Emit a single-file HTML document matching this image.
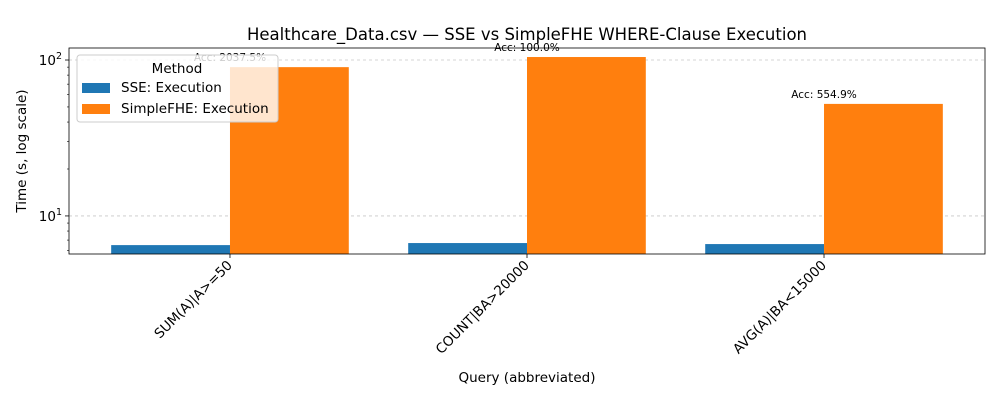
<!DOCTYPE html>
<html><head><meta charset="utf-8"><style>
body{margin:0;background:#fff;}
svg{display:block;font-family:"DejaVu Sans","Liberation Sans",sans-serif;}
</style></head><body>
<svg id="chart" width="1000" height="400" xmlns="http://www.w3.org/2000/svg"></svg>
<script>
const categories = ["SUM(A)|A>=50", "COUNT|BA>20000", "AVG(A)|BA<15000"];
const sseValues = [6.5, 6.7, 6.6];
const fheValues = [90, 104.5, 52.3];
const accLabels = ["Acc: 2037.5%", "Acc: 100.0%", "Acc: 554.9%"];
const yMajorTicks = [10, 100];
const yMajorLabels = ["10", "10"];
const yMajorExps = ["1", "2"];

const svg = document.getElementById('chart');
const NS = 'http://www.w3.org/2000/svg';
const L = 69, R = 985, T = 48, B = 254;
const yMin = 5.7, yMax = 119.4;
const xMin = -0.542, xMax = 2.542;
function xs(v){ return L + (v - xMin) / (xMax - xMin) * (R - L); }
function ys(v){ return B - (Math.log10(v) - Math.log10(yMin)) / (Math.log10(yMax) - Math.log10(yMin)) * (B - T); }
function mk(tag, attrs, parent){
  const e = document.createElementNS(NS, tag);
  for (const k in attrs) e.setAttribute(k, attrs[k]);
  (parent || svg).appendChild(e);
  return e;
}

// grid
yMajorTicks.forEach(v => {
  const g = mk('line', {x1:L, x2:R, y1:ys(v), y2:ys(v), stroke:'#b0b0b0', 'stroke-width':0.8, 'stroke-dasharray':'3,3', opacity:0.7});
  
  
});

const bw = 0.4;
categories.forEach((c, i) => {
  const b1 = mk('rect', {x:xs(i - bw), y:ys(sseValues[i]), width:xs(i) - xs(i - bw), height:B - ys(sseValues[i]), fill:'#1f77b4'});
  
  
  const b2 = mk('rect', {x:xs(i), y:ys(fheValues[i]), width:xs(i + bw) - xs(i), height:B - ys(fheValues[i]), fill:'#ff7f0e'});
  
  
  const a = mk('text', {x:xs(i), y:ys(fheValues[i]) - 6, 'text-anchor':'middle', 'font-size':'10.5', fill:'#000'});
  a.textContent = accLabels[i];
  
  
  // x tick
  mk('line', {x1:xs(i), x2:xs(i), y1:B, y2:B + 4, stroke:'#000', 'stroke-width':0.8});
  const tx = xs(i) + 3, ty = B + 12;
  const t = mk('text', {x:tx, y:ty, 'text-anchor':'end', 'font-size':'13.5', transform:`rotate(-45 ${tx} ${ty})`});
  t.textContent = c;
  
  
});

// y ticks
yMajorTicks.forEach((v, i) => {
  mk('line', {x1:L - 4, x2:L, y1:ys(v), y2:ys(v), stroke:'#000', 'stroke-width':0.8});
  const t = mk('text', {x:L - 7, y:ys(v) + 5, 'text-anchor':'end', 'font-size':'13.5'});
  
  
  t.textContent = yMajorLabels[i];
  const s = mk('tspan', {dy:-6, 'font-size':'9.5'}, t);
  s.textContent = yMajorExps[i];
});
[6,7,8,9,20,30,40,50,60,70,80,90].forEach(v => {
  mk('line', {x1:L - 2, x2:L, y1:ys(v), y2:ys(v), stroke:'#000', 'stroke-width':0.6});
});

// axes frame
const f = mk('rect', {x:L, y:T, width:R - L, height:B - T, fill:'none', stroke:'#000', 'stroke-width':0.8});


</script>
<svg style="position:absolute;left:0;top:0" width="1000" height="400" xmlns="http://www.w3.org/2000/svg" font-family="DejaVu Sans, Liberation Sans, sans-serif">
  <text x="527" y="40" text-anchor="middle" font-size="16.5">Healthcare_Data.csv — SSE vs SimpleFHE WHERE-Clause Execution</text>
  <text x="527" y="382" text-anchor="middle" font-size="13.5">Query (abbreviated)</text>
  <text transform="translate(26 151) rotate(-90)" text-anchor="middle" font-size="13.5">Time (s, log scale)</text>
  <g>
    <rect x="77" y="55" width="201" height="67" rx="3" fill="#fff" fill-opacity="0.8" stroke="#ccc" stroke-width="1"/>
    <text x="177" y="73" text-anchor="middle" font-size="13.5">Method</text>
    <rect x="82" y="83" width="28" height="10" fill="#1f77b4"/>
    <text x="121" y="92" font-size="13.5">SSE: Execution</text>
    <rect x="82" y="104" width="28" height="10" fill="#ff7f0e"/>
    <text x="121" y="113" font-size="13.5">SimpleFHE: Execution</text>
  </g>
</svg>
</body></html>
